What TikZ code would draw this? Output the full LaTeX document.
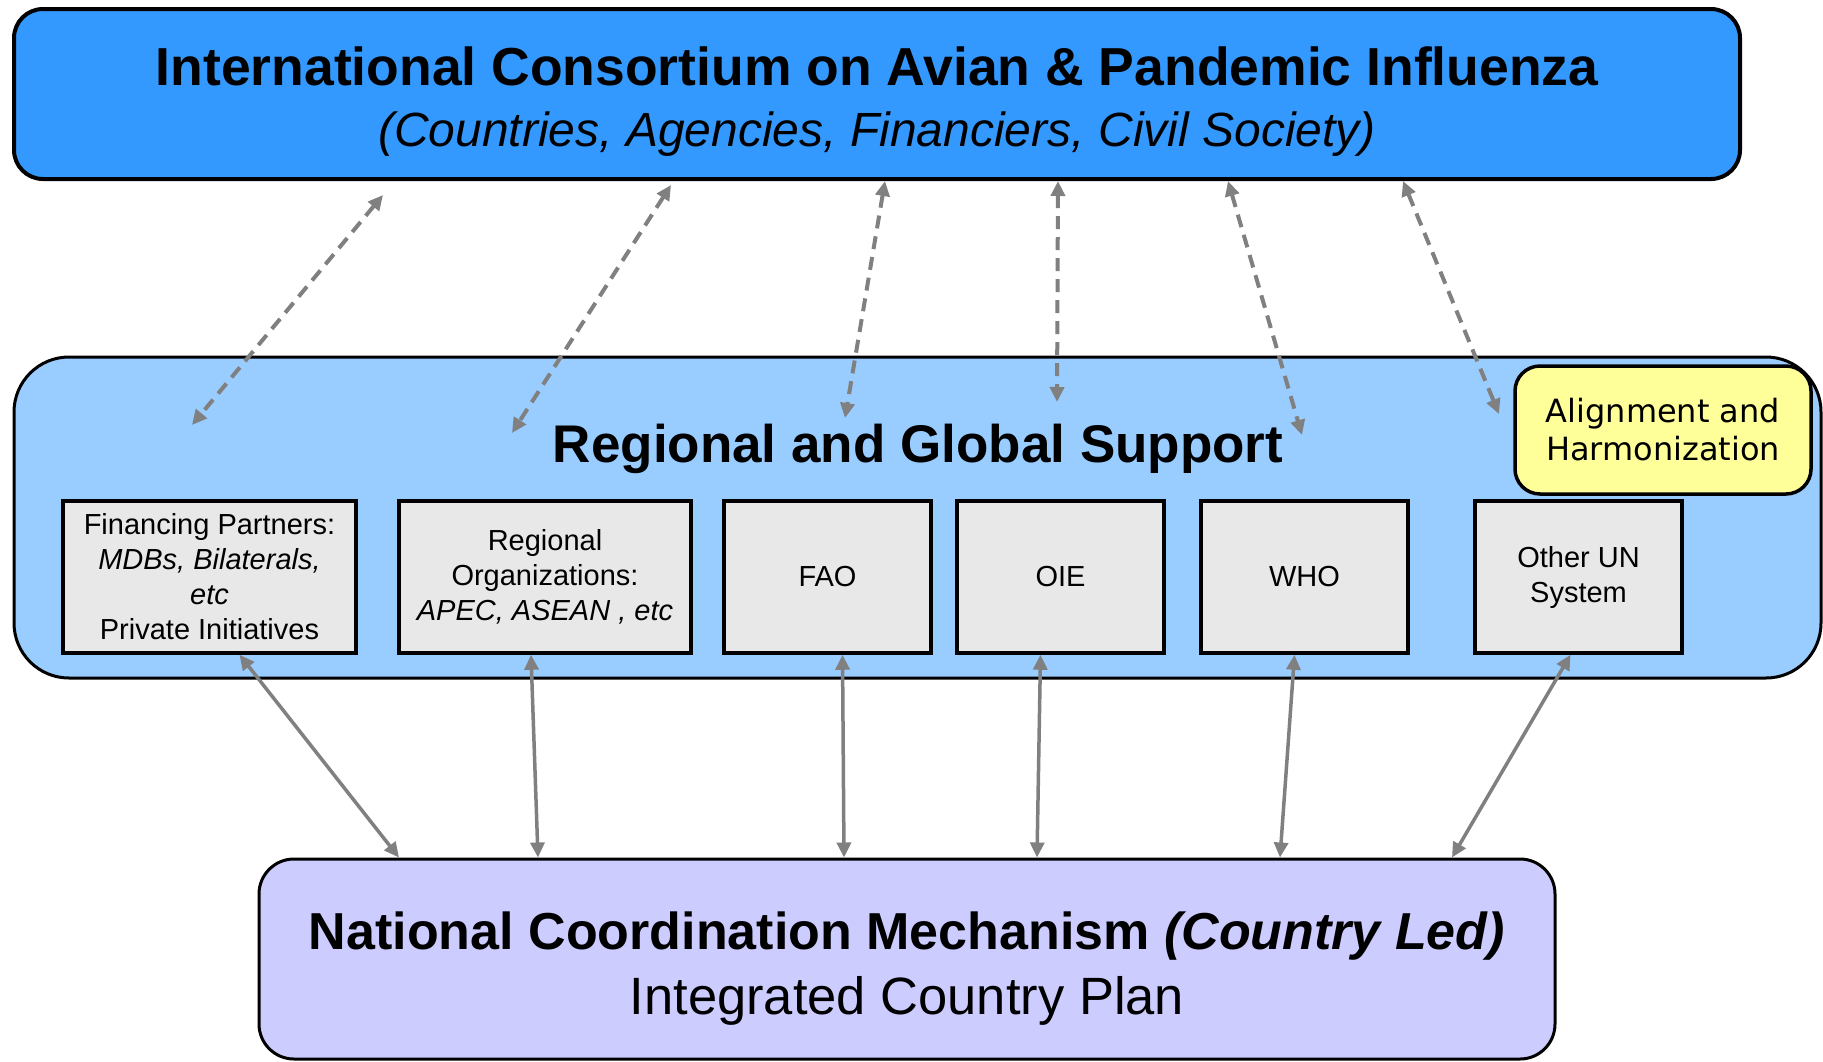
\documentclass[tikz,border=0pt]{standalone}
\usepackage{fontspec}
\setmainfont{Liberation Sans}
\newfontfamily\harmonfont{DejaVu Sans}
\usetikzlibrary{arrows.meta}
\definecolor{icapiblue}{HTML}{3399FF}
\definecolor{regblue}{HTML}{99CCFF}
\definecolor{natlilac}{HTML}{CCCCFF}
\definecolor{harmonyellow}{HTML}{FFFF99}
\definecolor{unitgray}{HTML}{E8E8E8}
\definecolor{linkgray}{HTML}{808080}
\tikzset{
  unit/.style={draw, line width=3.5pt, fill=unitgray, minimum height=152pt, align=center, inner sep=2pt, font=\fontsize{29}{35}\selectfont},
  link/.style={draw=linkgray, line width=3.5pt, {Triangle[length=15pt,width=14pt]}-{Triangle[length=15pt,width=14pt]}},
  dlink/.style={link, line width=4pt, dash pattern=on 13pt off 8pt},
}
\begin{document}
\begin{tikzpicture}[x=1pt,y=-1pt]
    \useasboundingbox (0,0) rectangle (1823,1061);
    % consortium
    \node[draw, line width=4pt, fill=icapiblue, rounded corners=29pt, minimum width=1726pt, minimum height=170pt] (icapi) at (877,94) {};
    \node[align=center, font=\fontsize{48}{61}\selectfont] (icapititle) at (877,102)
      {{\bfseries\fontsize{53.5}{61}\selectfont International Consortium on Avian \& Pandemic Influenza}\\ \textit{(Countries, Agencies, Financiers, Civil Society)}};
    % regional and global support
    \node[draw, line width=3pt, fill=regblue, rounded corners=55pt, minimum width=1807pt, minimum height=321pt] (rgs) at (917.5,517.5) {};
    \node[font=\bfseries\fontsize{53}{62}\selectfont] (rgstitle) at (918,449) {Regional and Global Support};
    \node[draw, line width=3.5pt, fill=harmonyellow, rounded corners=25pt, minimum width=296pt, minimum height=128pt, align=center, font=\harmonfont\fontsize{32}{38}\selectfont] (harmon) at (1663,430) {Alignment and\\Harmonization};
    \node[unit, minimum width=293pt] (fin) at (209.5,577) {Financing Partners:\\ \textit{MDBs, Bilaterals,}\\ \textit{etc}\\ Private Initiatives};
    \node[unit, minimum width=292pt] (reg) at (545,577) {Regional\\ Organizations:\\ \textit{APEC, ASEAN , etc}};
    \node[unit, minimum width=207pt] (fao) at (827.5,577) {FAO};
    \node[unit, minimum width=207pt] (oie) at (1060.5,577) {OIE};
    \node[unit, minimum width=207pt] (who) at (1304.5,577) {WHO};
    \node[unit, minimum width=207pt] (un) at (1578.5,577) {Other UN\\ System};
    % national level
    \node[draw, line width=3pt, fill=natlilac, rounded corners=35pt, minimum width=1296pt, minimum height=200pt] (ncm) at (907,959) {};
    \node[align=center, font=\fontsize{52.5}{65}\selectfont] (ncmtitle) at (907,969)
      {{\bfseries\fontsize{52}{65}\selectfont National Coordination Mechanism \textit{(Country Led)}}\\ Integrated Country Plan};
    % free ends of the dashed links
    \coordinate (d1) at (192,425);
    \coordinate (d2) at (512,433);
    \coordinate (d3) at (845,418);
    \coordinate (d4) at (1057,402);
    \coordinate (d5) at (1302,435);
    \coordinate (d6) at (1499,414);
    \foreach \n/\s/\h in {1/-494/-14, 2/-206/-4, 3/8/0, 4/181/0, 5/351/0, 6/526/0}
    \draw[dlink] ([xshift=\s pt,yshift=\h pt]icapi.south) -- (d\n);
    \foreach \b/\s/\e in {fin/30/-508, reg/-14/-369, fao/15/-63, oie/-20/130, who/-10/373, un/-8/545}
    \draw[link] ([xshift=\s pt]\b.south) -- ([xshift=\e pt]ncm.north);
\end{tikzpicture}
\end{document}
